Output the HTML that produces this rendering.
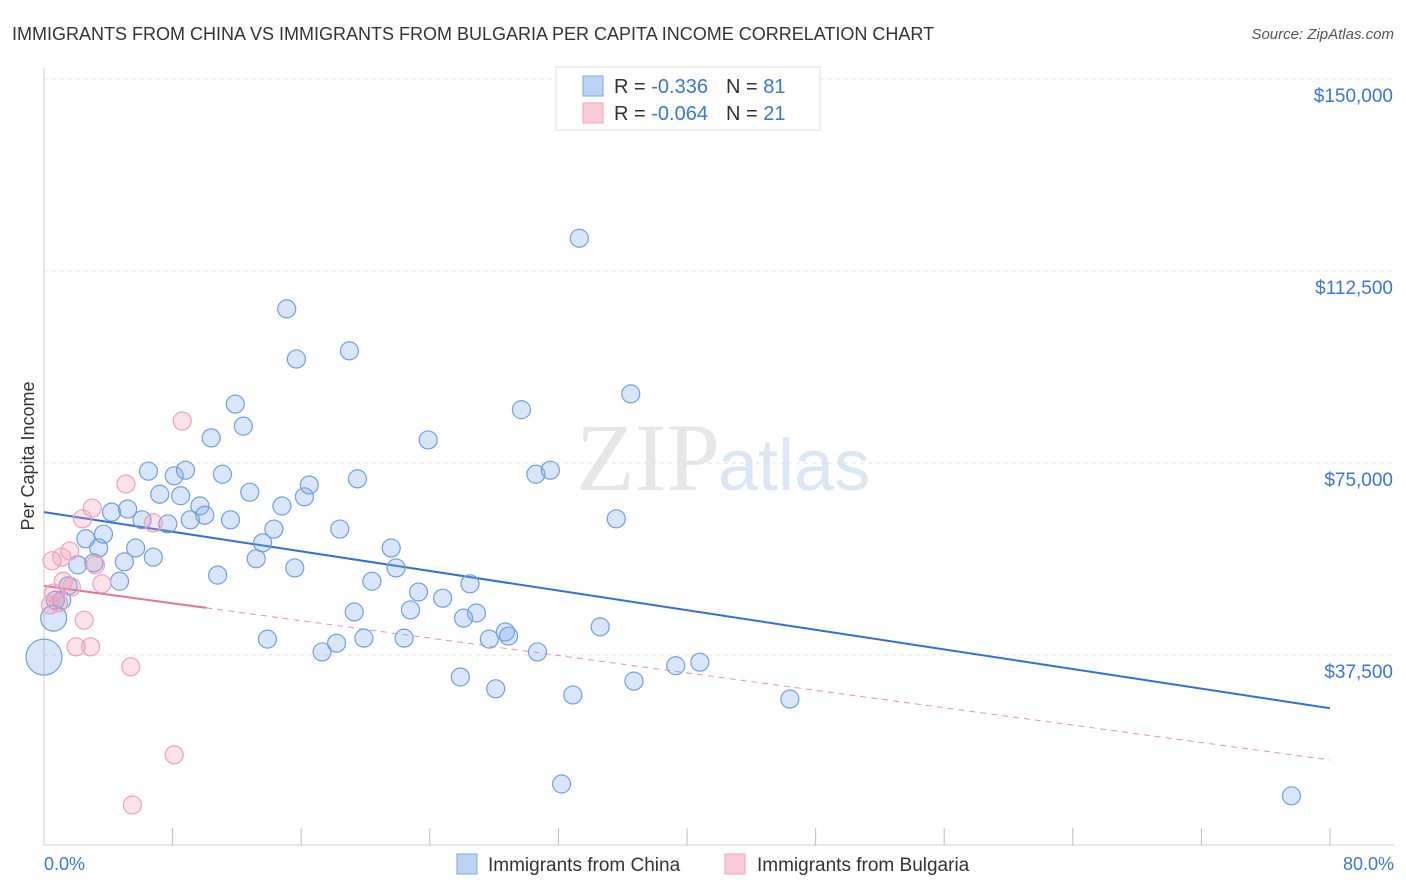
<!DOCTYPE html>
<html><head><meta charset="utf-8">
<style>
body{margin:0;background:#fff;font-family:"Liberation Sans",sans-serif;}
svg{display:block}
</style></head>
<body>
<svg id="chart" width="1406" height="892" xmlns="http://www.w3.org/2000/svg">
<text x="12" y="40" font-size="18" fill="#333">IMMIGRANTS FROM CHINA VS IMMIGRANTS FROM BULGARIA PER CAPITA INCOME CORRELATION CHART</text>
<text x="1394" y="39" font-size="15" fill="#555" font-style="italic" text-anchor="end">Source: ZipAtlas.com</text>
<text x="720" y="490" font-size="96" fill="#e6e6e6" font-family="Liberation Serif" text-anchor="end">ZIP</text>
<text x="718" y="490" font-size="72" fill="#dbe6f5">atlas</text>
<g id="grid"></g>
<g id="axes"></g>
<g id="lines"></g>
<g id="pts"></g>
<text transform="translate(34,456) rotate(-90)" font-size="18" fill="#333" text-anchor="middle">Per Capita Income</text>
<text x="44" y="870" font-size="18" fill="#3a76d8">0.0%</text>
<text x="1394" y="870" font-size="18" fill="#3a76d8" text-anchor="end">80.0%</text>
<g>
<rect x="556" y="67" width="264" height="63" fill="#fff" stroke="#ddd"/>
<rect x="583" y="76" width="20" height="20" fill="#bcd3f5" stroke="#7aa6e6"/>
<rect x="583" y="103" width="20" height="20" fill="#fbcbd8" stroke="#f0a0b8"/>
<text x="614" y="93" font-size="20" fill="#333">R = <tspan fill="#3a76d8"> -0.336</tspan><tspan dx="18">N = </tspan><tspan fill="#3a76d8">81</tspan></text>
<text x="614" y="120" font-size="20" fill="#333">R = <tspan fill="#3a76d8">-0.064</tspan><tspan dx="18">N = </tspan><tspan fill="#3a76d8">21</tspan></text>
</g>
<g>
<rect x="457" y="854" width="20" height="20" fill="#bcd3f5" stroke="#7aa6e6"/>
<text x="488" y="871" font-size="19" fill="#333">Immigrants from China</text>
<rect x="725" y="854" width="20" height="20" fill="#fbcbd8" stroke="#f0a0b8"/>
<text x="757" y="871" font-size="19" fill="#333">Immigrants from Bulgaria</text>
</g>
</svg>
<script>
const yTicks=[37500,75000,112500,150000];
const yTickLabels=["$37,500","$75,000","$112,500","$150,000"];
const chinaX=[33.3,15.1,15.7,19.0,36.5,11.9,29.7,12.4,10.4,23.9,6.5,8.1,8.8,11.1,19.5,30.6,31.5,7.2,8.5,12.8,16.5,16.2,4.2,5.2,6.1,7.7,9.7,10.0,9.1,11.6,14.8,14.3,18.4,35.6,2.6,3.7,3.4,5.7,6.8,13.6,13.2,21.6,2.1,3.1,5.0,4.7,10.8,15.6,21.9,20.4,26.5,23.3,1.5,1.1,24.8,19.3,22.8,26.9,26.1,28.7,28.9,27.7,34.6,13.9,18.2,19.9,22.4,17.3,30.7,40.8,39.3,25.9,36.7,28.1,32.9,46.4,32.2,77.6,0.6,0.0,0.7];
const chinaY=[118900,105100,95300,96900,88500,86500,85400,82200,79900,79500,73400,72500,73600,72800,71900,72800,73600,68900,68600,69300,70700,68400,65400,66000,63900,63100,66600,64800,63900,63900,66600,62100,62100,64100,60200,61100,58400,58400,56600,59400,56300,58400,55100,55500,55700,51900,53100,54500,54500,51900,51400,49800,51000,48200,48600,45900,46300,45700,44700,42000,41200,40600,43000,40600,39800,40800,40800,38100,38100,36100,35400,33200,32400,30900,29700,28900,12300,10000,44700,37100,48200];
const chinaSize=[9,9,9,9,9,9,9,9,9,9,9,9,9,9,9,9,9,9,9,9,9,9,9,9,9,9,9,9,9,9,9,9,9,9,9,9,9,9,9,9,9,9,9,9,9,9,9,9,9,9,9,9,9,9,9,9,9,9,9,9,9,9,9,9,9,9,9,9,9,9,9,9,9,9,9,9,9,9,13,18,9];
const bulgX=[8.6,5.1,3.0,2.4,6.8,0.5,1.1,1.6,3.2,1.2,3.6,1.7,0.6,0.9,2.5,2.0,2.9,5.4,8.1,5.5,0.4];
const bulgY=[83200,70900,66200,64100,63300,55900,56600,57800,55100,51900,51400,50800,49600,47700,44300,39100,39100,35200,18000,8200,47300];
const chinaTrend=[65400,27100];
const bulgTrend=[51000,17000];
const bulgSolidEnd=10.1;
const X=v=>44+v/80*1286, Y=v=>847-v/37500*192;
const NS="http://www.w3.org/2000/svg";
function mk(tag,attrs,parent){const e=document.createElementNS(NS,tag);for(const k in attrs)e.setAttribute(k,attrs[k]);document.getElementById(parent).appendChild(e);return e;}
yTicks.forEach((t,i)=>{
 const l=mk('line',{x1:44,x2:1394,y1:Y(t),y2:Y(t),stroke:'#e2e2e2','stroke-dasharray':'4,4'},'grid');
 
 
 const tx=mk('text',{x:1393,y:Y(t)+23,'font-size':19,fill:'#3a76d8','text-anchor':'end'},'grid');
 tx.textContent=yTickLabels[i];
 
 
});
const ax=mk('line',{x1:44,x2:44,y1:68,y2:845,stroke:'#ccc'},'axes');


const bx=mk('line',{x1:44,x2:1394,y1:845,y2:845,stroke:'#ccc'},'axes');


for(let i=1;i<=10;i++){const t=mk('line',{x1:X(i*8),x2:X(i*8),y1:828,y2:845,stroke:'#bbb'},'axes');
 
 }
const bt=mk('line',{x1:X(0),y1:Y(chinaTrend[0]),x2:X(80),y2:Y(chinaTrend[1]),stroke:'#2f6fdc','stroke-width':2},'lines');


const by=v=>bulgTrend[0]+(bulgTrend[1]-bulgTrend[0])*v/80;
const pd=mk('line',{x1:X(bulgSolidEnd),y1:Y(by(bulgSolidEnd)),x2:X(80),y2:Y(bulgTrend[1]),stroke:'#ec8fae','stroke-width':1,'stroke-dasharray':'6,5'},'lines');


const ps=mk('line',{x1:X(0),y1:Y(bulgTrend[0]),x2:X(bulgSolidEnd),y2:Y(by(bulgSolidEnd)),stroke:'#e8709a','stroke-width':2},'lines');


chinaX.forEach((v,i)=>{const c=mk('circle',{cx:X(v),cy:Y(chinaY[i]),r:chinaSize[i],fill:'rgba(120,165,235,0.28)',stroke:'#6f9fe0','stroke-width':1.2},'pts');
 
 });
bulgX.forEach((v,i)=>{const c=mk('circle',{cx:X(v),cy:Y(bulgY[i]),r:9,fill:'rgba(245,150,180,0.28)',stroke:'#f0a0b8','stroke-width':1.2},'pts');
 
 });
</script>
</body></html>
